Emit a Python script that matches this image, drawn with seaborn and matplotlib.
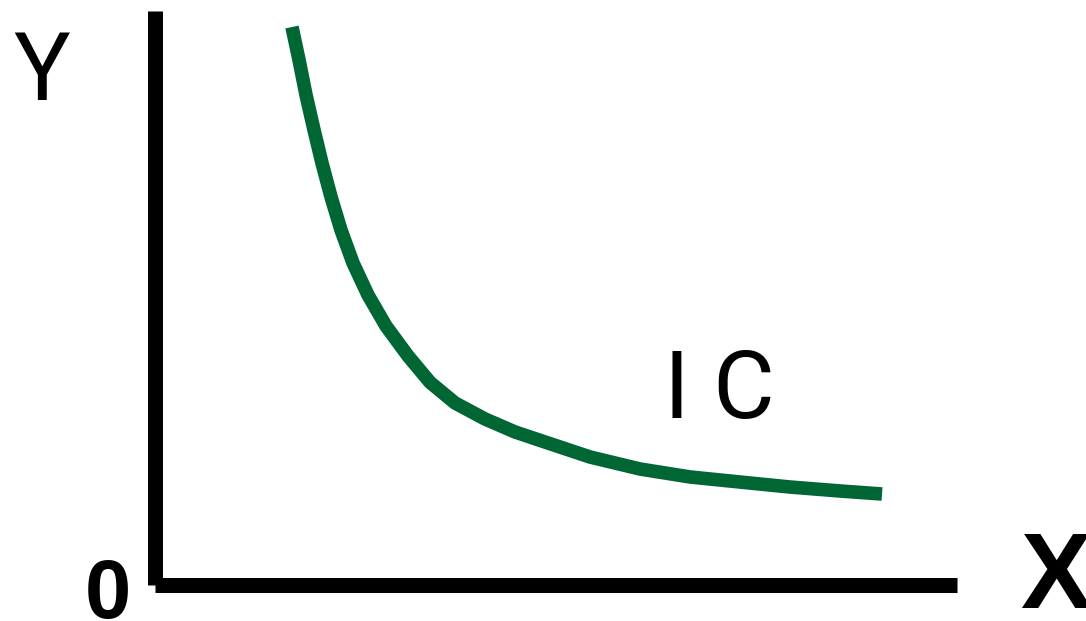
import matplotlib
matplotlib.use('Agg')
import matplotlib.pyplot as plt
import seaborn as sns

# ── Indifference curve points ────────────────────────────────────────────────
curve_x = [1.708, 1.796, 1.883, 1.983, 2.082, 2.195, 2.319, 2.469, 2.656, 2.880,
           3.155, 3.430, 3.741, 4.115, 4.489, 4.863, 5.424, 6.047, 6.671, 7.294,
           7.918, 8.541, 9.065]
curve_y = [9.721, 9.146, 8.537, 7.927, 7.352, 6.760, 6.185, 5.610, 5.052, 4.512,
           3.990, 3.530, 3.171, 2.892, 2.666, 2.491, 2.230, 2.021, 1.882, 1.794,
           1.707, 1.638, 1.585]

GREEN = '#006633'
BLACK = '#000000'

sns.set_style('white')
plt.rcParams['font.family'] = ['Liberation Sans', 'DejaVu Sans']

fig = plt.figure(figsize=(10.86, 6.21), dpi=100)
fig.patch.set_facecolor('white')
ax = fig.add_axes([155 / 1086, 36 / 621, 802 / 1086, 574 / 621])

sns.lineplot(x=curve_x, y=curve_y, ax=ax, color=GREEN, linewidth=9.8,
             sort=False, estimator=None)
ax.lines[0].set_solid_capstyle('butt')
ax.lines[0].set_solid_joinstyle('round')

ax.set_xlim(0, 10)
ax.set_ylim(0, 10)
ax.set_xticks([])
ax.set_yticks([])
ax.spines[['top', 'right']].set_visible(False)
for s in ['left', 'bottom']:
    ax.spines[s].set_color(BLACK)
    ax.spines[s].set_linewidth(10.8)
    ax.spines[s].set_capstyle('butt')

thin = ['Roboto', 'DejaVu Sans']
ax.text(7.04, 2.91, 'I C', ha='center', va='baseline', fontsize=68,
        color=BLACK, family=thin)
fig.text(0.0387, 1 - 100 / 621, 'Y', ha='center', va='baseline',
         fontsize=68, color=BLACK, family=thin)
fig.text(0.0994, 1 - 618 / 621, '0', ha='center', va='baseline',
         fontsize=60, fontweight='bold', color=BLACK)
fig.text(1020 / 1086, 1 - 608 / 621, 'X', ha='left', va='baseline',
         fontsize=77, fontweight='bold', color=BLACK)

fig.savefig('out.png', dpi=100, facecolor='white')
